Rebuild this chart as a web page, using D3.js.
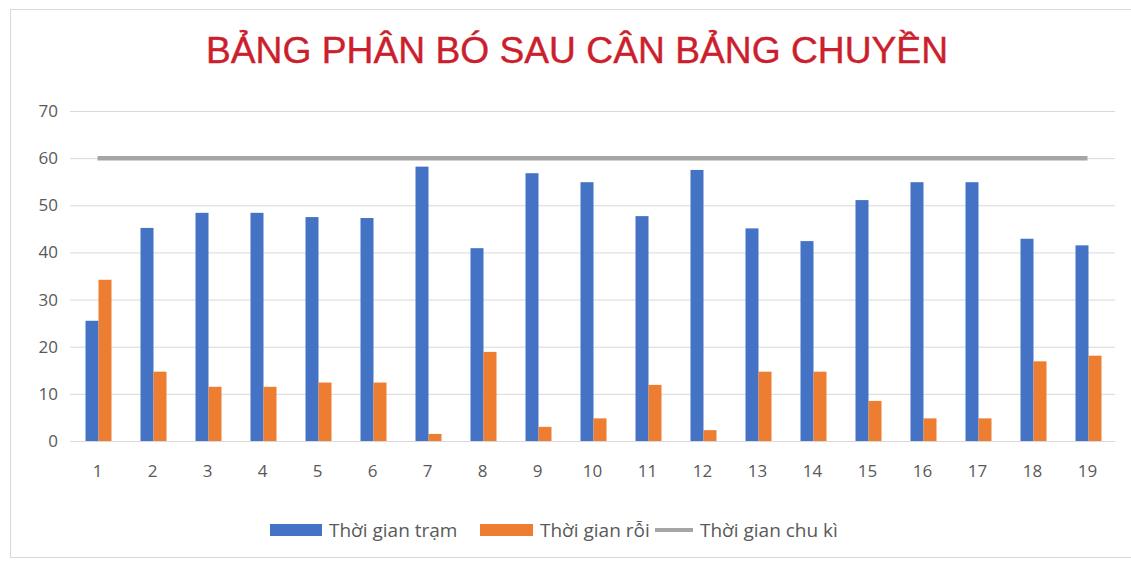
<!DOCTYPE html>
<html>
<head>
<meta charset="utf-8">
<script src="https://cdn.jsdelivr.net/npm/d3@7"></script>
<style>
  body { margin:0; background:#fff; }
  text { font-family: "Open Sans", "Liberation Sans", sans-serif; }
  text.title { font-family: "Liberation Sans", Arial, sans-serif; }
</style>
</head>
<body>
<div id="chart"></div>
<script>
var categories = ["1","2","3","4","5","6","7","8","9","10","11","12","13","14","15","16","17","18","19"]
var tramValues = [25.5, 45.2, 48.4, 48.4, 47.5, 47.3, 58.2, 40.9, 56.8, 54.9, 47.7, 57.5, 45.1, 42.4, 51.1, 54.9, 54.9, 42.9, 41.5]
var roiValues  = [34.2, 14.7, 11.5, 11.5, 12.4, 12.4, 1.5, 18.9, 3.0, 4.8, 11.9, 2.3, 14.7, 14.7, 8.5, 4.8, 4.8, 16.9, 18.1]
var chuKiValues = categories.map(() => 60)
var yTicks = [0, 10, 20, 30, 40, 50, 60, 70]
var seriesNames = ["Thời gian trạm", "Thời gian rỗi", "Thời gian chu kì"]
var titleText = "BẢNG PHÂN BÓ SAU CÂN BẢNG CHUYỀN"

var W = 1131, H = 563
var margin = {top: 111, right: 16, bottom: 122, left: 70}
var width = W - margin.left - margin.right
var height = H - margin.top - margin.bottom

var colors = {tram: "#4472c4", roi: "#ed7d31", chuKi: "#a5a5a5"}

var svg = d3.select("#chart").append("svg")
    .attr("width", W).attr("height", H)

// outer frame of the chart
svg.append("rect")
    .attr("x", 10.5).attr("y", 9.5)
    .attr("width", W - 10).attr("height", 548)
    .attr("fill", "#fff").attr("stroke", "#d9d9d9")

svg.append("text")
    .attr("class", "title")
    .attr("x", 577).attr("y", 63)
    .attr("text-anchor", "middle")
    .attr("fill", "#cc1f2d")
    .attr("stroke", "#cc1f2d").attr("stroke-width", 0.4)
    .attr("font-size", 36)
    .attr("textLength", 742).attr("lengthAdjust", "spacingAndGlyphs")
    .text(titleText)

var g = svg.append("g").attr("transform", `translate(${margin.left},${margin.top})`)

var x = d3.scaleBand().domain(categories).range([0, width])
var xSub = d3.scaleBand().domain(["tram", "roi"]).range([0, 26])
var y = d3.scaleLinear().domain([0, 70]).range([height, 0])

// gridlines + y labels
var yAxis = d3.axisLeft(y).tickValues(yTicks).tickSize(-width).tickPadding(12)
g.append("g").call(yAxis)
  .call(s => s.select(".domain").remove())
  .call(s => s.selectAll(".tick line").attr("stroke", "#d9d9d9"))
  .call(s => s.selectAll(".tick text").attr("fill", "#595959").attr("font-size", 17))

var xAxis = d3.axisBottom(x).tickSize(0).tickPadding(24)
g.append("g").attr("transform", `translate(0,${height})`).call(xAxis)
  .call(s => s.select(".domain").remove())
  .call(s => s.selectAll(".tick text").attr("fill", "#595959").attr("font-size", 17))

var groups = g.selectAll(".grp").data(categories).enter().append("g")
    .attr("class", "grp")
    .attr("transform", d => `translate(${x(d) + x.bandwidth() / 2 - 12},0)`)

groups.append("rect")
    .attr("x", xSub("tram")).attr("width", xSub.bandwidth())
    .attr("y", (d, i) => y(tramValues[i]))
    .attr("height", (d, i) => height - y(tramValues[i]))
    .attr("fill", colors.tram)

groups.append("rect")
    .attr("x", xSub("roi")).attr("width", xSub.bandwidth())
    .attr("y", (d, i) => y(roiValues[i]))
    .attr("height", (d, i) => height - y(roiValues[i]))
    .attr("fill", colors.roi)

var line = d3.line()
    .x((d, i) => x(categories[i]) + x.bandwidth() / 2)
    .y(d => y(d))

g.append("path").datum(chuKiValues)
    .attr("fill", "none")
    .attr("stroke", colors.chuKi)
    .attr("stroke-width", 4.5)
    .attr("d", line)

// legend
var legend = svg.append("g").attr("transform", "translate(0,530)")
var items = [
  {name: seriesNames[0], color: colors.tram, type: "rect", x: 270, w: 52},
  {name: seriesNames[1], color: colors.roi, type: "rect", x: 480, w: 53},
  {name: seriesNames[2], color: colors.chuKi, type: "line", x: 655, w: 38}
]
items.forEach(it => {
  if (it.type == "rect") {
    legend.append("rect").attr("x", it.x).attr("y", -6).attr("width", it.w).attr("height", 12).attr("fill", it.color)
  } else {
    legend.append("line").attr("x1", it.x).attr("x2", it.x + it.w).attr("y1", 0).attr("y2", 0)
      .attr("stroke", it.color).attr("stroke-width", 4)
  }
  legend.append("text").attr("x", it.x + it.w + 7).attr("y", 7)
    .attr("fill", "#595959").attr("font-size", 19)
    .text(it.name)
})
</script>
</body>
</html>
